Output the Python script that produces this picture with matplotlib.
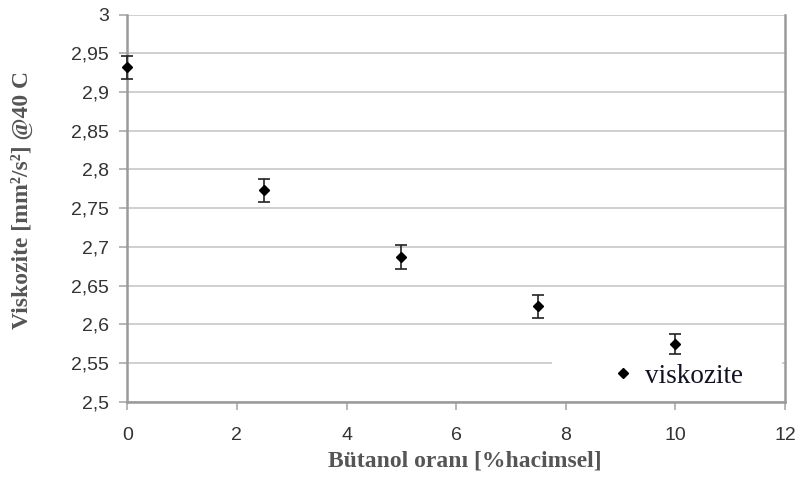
import matplotlib
matplotlib.use("Agg")
import matplotlib.pyplot as plt
from matplotlib.ticker import FuncFormatter
from matplotlib.patches import Rectangle
from matplotlib.lines import Line2D

butanol = [0, 2.5, 5, 7.5, 10]
viskozite = [2.932, 2.773, 2.687, 2.623, 2.575]
hata = [0.015, 0.015, 0.015, 0.015, 0.013]
xticks = [0, 2, 4, 6, 8, 10, 12]
yticks = [2.5, 2.55, 2.6, 2.65, 2.7, 2.75, 2.8, 2.85, 2.9, 2.95, 3.0]

fig = plt.figure(figsize=(7.98, 4.93), dpi=100)
ax = fig.add_axes([0.1595, 0.1852, 0.8242, 0.7850])

ax.errorbar(butanol, viskozite, yerr=hata, fmt='D', color='black', markersize=5,
            ecolor='#222222', elinewidth=1.2, capsize=4, capthick=1.2, zorder=4, clip_on=False)

ax.set_xlim(0, 12)
ax.set_ylim(2.5, 3.0)
ax.set_xticks(xticks)
ax.set_yticks(yticks)

def fmt(v, pos):
    s = ('%.2f' % v).rstrip('0').rstrip('.')
    return s.replace('.', ',')
ax.xaxis.set_major_formatter(FuncFormatter(fmt))
ax.yaxis.set_major_formatter(FuncFormatter(fmt))

for lab in ax.get_xticklabels() + ax.get_yticklabels():
    lab.set_family('Liberation Sans')
    lab.set_fontsize(14)
    lab.set_color('#333333')

ax.grid(axis='y', color='#cccccc', linewidth=1.3, zorder=0)
ax.set_axisbelow(True)
for side in ['left', 'bottom', 'right']:
    ax.spines[side].set_color('#9a9a9a')
    ax.spines[side].set_linewidth(1.8)
ax.spines['top'].set_visible(False)
ax.tick_params(axis='both', direction='out', length=6, color='#aaaaaa', width=1.2)
ax.tick_params(axis='x', pad=12)
ax.tick_params(axis='y', pad=7)

ax.set_xlabel('Bütanol oranı [%hacimsel]', family='Liberation Serif', fontweight='bold',
              fontsize=17, color='#555555', va='center')
ax.xaxis.set_label_coords(0.513, -0.153)
ax.set_ylabel('Viskozite [mm²/s²] @40 C', family='Liberation Serif', fontweight='bold',
              fontsize=17, color='#555555', va='center')
ax.yaxis.set_label_coords(-0.160, 0.521)

# white legend area (no border) in lower right
ax.add_patch(Rectangle((0.646, 0.004), 0.35, 0.108, transform=ax.transAxes,
                       facecolor='white', edgecolor='none', zorder=2))

handle = Line2D([], [], marker='D', linestyle='none', color='black', markersize=5)
leg = ax.legend([handle], ['viskozite'], loc='center left', frameon=False,
                prop={'family': 'Liberation Serif', 'size': 19.5}, handletextpad=0.3,
                borderaxespad=0, borderpad=0, handlelength=1.0,
                bbox_to_anchor=(0.733, 0.066))
leg.set_zorder(5)
for t in leg.get_texts():
    t.set_color('#111122')

fig.savefig('out.png', dpi=100)
